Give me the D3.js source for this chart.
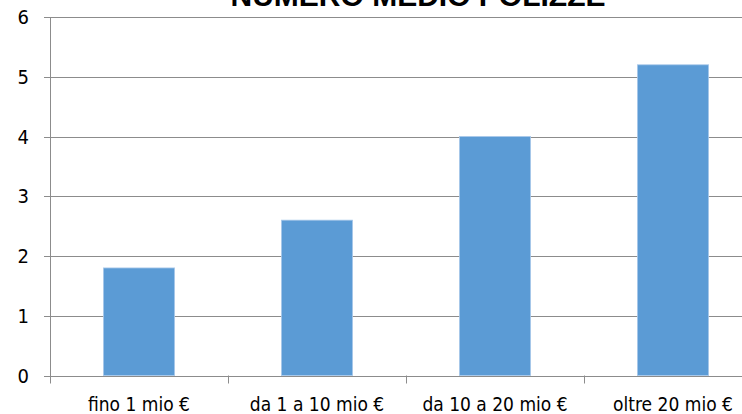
<html>
<head>
<meta charset="utf-8">
<title>Numero medio polizze</title>
<script src="https://d3js.org/d3.v7.min.js"></script>
<style>
  body { margin:0; background:#fff; }
  svg { display:block; }
</style>
</head>
<body>
<script>
// data
var categories = ["fino 1 mio €", "da 1 a 10 mio €", "da 10 a 20 mio €", "oltre 20 mio €"];
var values = [1.8, 2.6, 4.0, 5.2];
var yTicks = [0, 1, 2, 3, 4, 5, 6];
var title = "NUMERO MEDIO POLIZZE";

var width = 742, height = 414;
var plotLeft = 50, plotTop = 17, plotBottom = 375.5, bandW = 178;
var labelFont = "'DejaVu Sans Condensed', 'Liberation Sans', sans-serif";

var svg = d3.select("body").append("svg")
  .attr("width", width).attr("height", height);

var x = d3.scaleBand()
  .domain(categories)
  .range([plotLeft, plotLeft + bandW * categories.length])
  .paddingInner(0.6).paddingOuter(0.3);
// band scale without padding for divider ticks
var xb = d3.scaleBand().domain(categories).range([plotLeft, plotLeft + bandW * categories.length]);

var y = d3.scaleLinear().domain([0, 6]).range([plotBottom, plotTop]);

// gridlines
svg.append("g").selectAll("line")
  .data(yTicks).enter().append("line")
  .attr("x1", plotLeft - 6).attr("x2", width)
  .attr("y1", function(d){ return Math.round(y(d)) + 0.5; })
  .attr("y2", function(d){ return Math.round(y(d)) + 0.5; })
  .attr("stroke", "#8c8c8c").attr("stroke-width", 1);

// y labels
svg.append("g").selectAll("text")
  .data(yTicks).enter().append("text")
  .attr("x", 29).attr("y", function(d){ return y(d) + 7; })
  .attr("text-anchor", "end")
  .attr("font-family", labelFont)
  .attr("font-size", "20px").attr("fill", "#000")
  .text(function(d){ return d; });

// bars
svg.append("g").selectAll("rect")
  .data(values).enter().append("rect")
  .attr("x", function(d, i){ return x(categories[i]); })
  .attr("width", x.bandwidth())
  .attr("y", function(d){ return y(d); })
  .attr("height", function(d){ return y(0) - y(d); })
  .attr("fill", "#5b9bd5")
  .attr("stroke", "#a9c9ea").attr("stroke-width", 0.8);

// y axis line
svg.append("line")
  .attr("x1", plotLeft + 0.5).attr("x2", plotLeft + 0.5)
  .attr("y1", y(6)).attr("y2", plotBottom + 8)
  .attr("stroke", "#8c8c8c");

// category divider ticks
svg.append("g").selectAll("line")
  .data(categories.slice(1)).enter().append("line")
  .attr("x1", function(d){ return Math.round(xb(d)) + 0.5; })
  .attr("x2", function(d){ return Math.round(xb(d)) + 0.5; })
  .attr("y1", plotBottom).attr("y2", plotBottom + 8)
  .attr("stroke", "#8c8c8c");

// category labels
svg.append("g").selectAll("text")
  .data(categories).enter().append("text")
  .attr("x", function(d){ return xb(d) + xb.bandwidth() / 2; })
  .attr("y", 411)
  .attr("text-anchor", "middle")
  .attr("font-family", labelFont)
  .attr("font-size", "19px").attr("fill", "#000")
  .text(function(d){ return d; });

// title (cut at the top as in the original)
svg.append("text")
  .attr("x", 418).attr("y", 6)
  .attr("text-anchor", "middle")
  .attr("font-family", "'Liberation Sans', Arial, sans-serif")
  .attr("font-weight", "bold")
  .attr("font-size", "30px").attr("fill", "#000")
  .text(title);
</script>
</body>
</html>
